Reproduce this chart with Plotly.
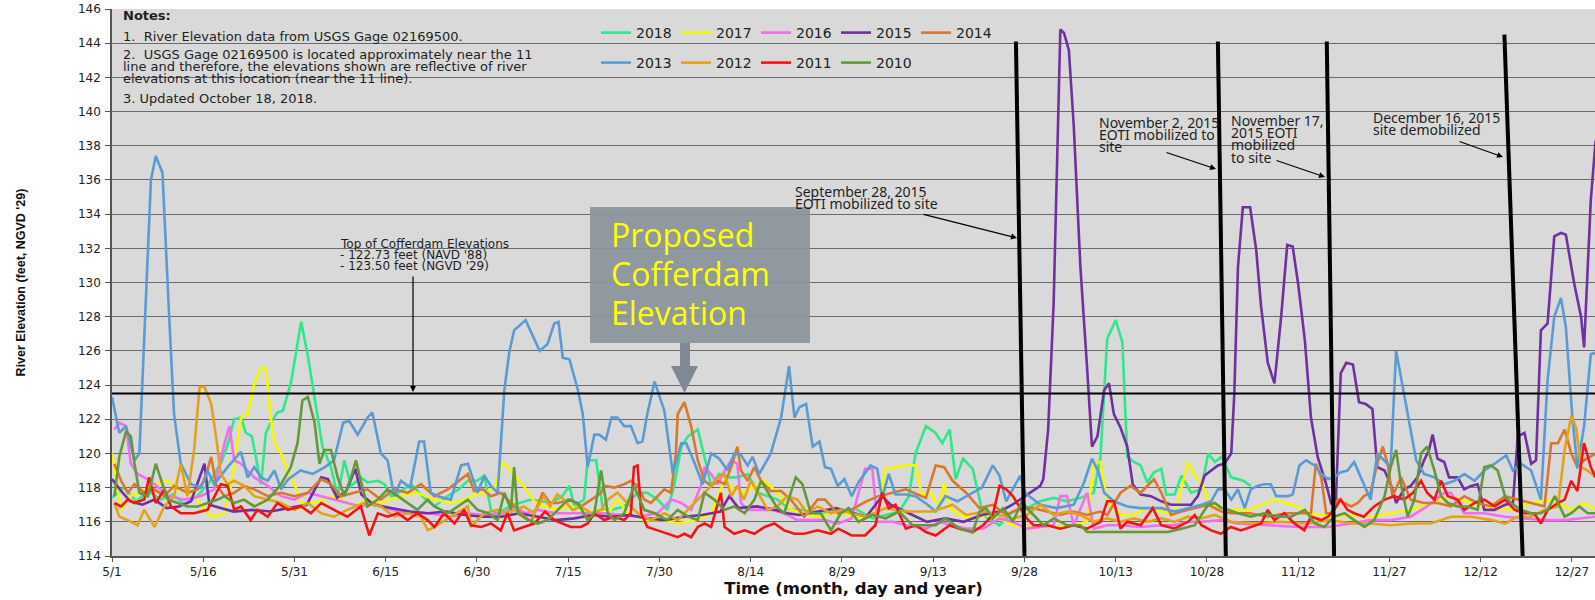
import plotly.graph_objects as go

# ---------------- data ----------------
TICK_DAYS = [0, 15, 30, 45, 60, 75, 90, 105, 120, 135, 150, 165, 180, 195, 210, 225, 240]
TICK_LABELS = ["5/1", "5/16", "5/31", "6/15", "6/30", "7/15", "7/30", "8/14", "8/29",
               "9/13", "9/28", "10/13", "10/28", "11/12", "11/27", "12/12", "12/27"]

YEARS = ["2018", "2017", "2016", "2015", "2014", "2013", "2012", "2011", "2010"]
COLORS = ["#2EE88A", "#F7F700", "#F56CF0", "#7030A0", "#D9782D",
          "#5B9BD5", "#E3A21A", "#F51414", "#63993A"]

s2018 = [(0,117.4),(2,118.0),(4,117.2),(6,117.8),(8,117.3),(10,117.6),(12,117.0),(14,117.5),(16,118.3),(18,119.5),(19,120.5),(20.1,122.0),(21.2,122.1),(22,121.2),(23,121.0),(24.5,118.2),(25.3,121.2),(26.1,121.8),(27.2,122.4),(28.1,122.5),(29.4,124.1),(31.1,127.7),(32.2,125.7),(33.5,122.9),(34.6,120.4),(36,119.2),(37.1,117.5),(38.2,119.6),(39.3,118.1),(40.9,118.6),(42,118.3),(43.7,118.4),(44.8,118.2),(45.9,117.5),(47,117.7),(49.2,118.2),(51,117.5),(53,116.9),(55.2,117.5),(57,117.9),(58.5,118.4),(60,118.4),(61.2,118.7),(62.3,116.7),(63.4,116.5),(66,117.0),(68.9,117.3),(72.2,117.1),(74,117.5),(75.2,118.1),(76,116.9),(77.6,117.3),(78.2,119.6),(79.6,119.6),(80.7,116.7),(82.1,116.7),(84.2,116.9),(86.4,117.7),(88,117.7),(89.7,117.3),(91.3,116.7),(92.4,118.1),(93.6,120.4),(94.7,121.0),(96.3,121.4),(97.4,119.8),(98.5,118.1),(99.8,118.8),(101.2,118.6),(102.8,118.6),(104.5,118.8),(106.2,117.7),(107.8,117.5),(109.4,117.3),(111.6,116.7),(113.8,116.7),(116,116.3),(118.2,116.7),(120.4,116.5),(122,116.8),(125,116.2),(127,116.4),(129.4,116.6),(131,117.5),(132.1,120.0),(133.8,121.6),(135.4,121.2),(136.5,120.6),(137.7,121.4),(138.7,118.5),(139.9,119.7),(141.5,119.1),(143.2,116.4),(145.9,115.8),(148.1,116.6),(150.4,116.8),(152.6,117.2),(154.8,117.4),(157,117.2),(159.2,117.4),(161.4,117.7),(162.5,119.8),(163.6,126.7),(165,127.8),(166.1,126.5),(166.9,119.8),(168,119.5),(169.1,119.3),(170.2,118.3),(171.3,118.9),(172.5,119.1),(173.3,117.6),(174.7,117.6),(175.8,118.7),(177.4,117.7),(179.1,117.9),(180.2,120.0),(181.3,119.5),(182.4,119.8),(184,118.6),(186,118.4),(187.2,118.1)]

s2017 = [(0,120.0),(1.5,116.7),(3,117.5),(5,117.8),(7,118.2),(9.2,118.4),(10.8,117.9),(13,117.7),(16.3,116.3),(18.5,116.5),(19.6,118.2),(21.2,122.1),(22.3,122.3),(23.4,124.1),(24.5,125.0),(25.3,125.0),(26.1,122.1),(26.7,120.6),(27.8,120.0),(29,118.8),(30,118.2),(31.1,117.1),(33.3,117.1),(36.5,117.5),(39.8,116.9),(42,117.3),(44.2,117.1),(47.5,117.5),(50.2,117.7),(53,117.3),(55.7,117.1),(58,117.3),(59,117.5),(61.2,117.7),(63,118.0),(64.2,119.5),(65,119.2),(67.7,118.1),(69.4,117.2),(71,116.9),(73.2,116.7),(75.4,116.9),(77.1,116.7),(79.8,116.5),(82,116.7),(83.1,117.3),(84.8,116.5),(87.5,116.1),(90.3,116.1),(93,115.9),(96.3,116.1),(98.5,116.5),(100.7,118.4),(101.8,118.0),(104,117.7),(105.6,118.1),(107.3,118.4),(109.4,117.7),(111.6,116.7),(113.8,116.5),(116,116.3),(118.2,116.5),(120.4,116.5),(122,116.2),(124,116.3),(126,116.8),(127.2,119.1),(128.8,119.2),(130.5,119.3),(132.1,119.3),(133.2,117.5),(134.6,117.7),(136,116.8),(136.8,118.3),(137.7,116.8),(139.3,116.4),(141.5,116.2),(143.7,116.4),(145.9,116.2),(148.1,115.8),(150.4,115.7),(152.6,115.8),(154.8,115.7),(158.1,115.8),(160.3,116.0),(161.4,119.5),(162.5,119.5),(163.6,117.2),(165.8,116.4),(168,116.4),(170.2,116.8),(172.5,116.6),(174.7,116.4),(176.9,119.5),(178,118.7),(179.1,118.3),(180.2,117.2),(182,116.8),(184,116.7),(187,116.7),(191.1,117.3),(194,117.0),(197.1,116.5),(200.4,116.3),(203.7,116.4),(207,116.3),(210.2,116.5),(213.5,116.7),(216.8,117.1),(220.1,117.5),(223.4,117.1),(226.8,116.8),(230.3,116.7),(233.3,117.1),(235.5,117.3),(237.7,117.1),(239.9,116.7),(242,117.1),(243.9,116.7)]

s2016 = [(0.4,121.4),(1.2,121.8),(2.3,121.6),(3.1,119.4),(4.2,118.8),(5.3,118.6),(7,118.2),(9.2,117.5),(11.9,117.3),(14.6,117.5),(16.8,117.9),(18.5,120.6),(19.3,121.6),(20.1,119.6),(21.2,119.4),(23.4,118.6),(25.6,118.1),(27.8,117.5),(30,117.3),(32.2,117.7),(34.4,117.5),(36.5,117.3),(38.7,117.1),(40.9,116.9),(43,117.1),(45.9,116.7),(48.6,116.5),(51.9,116.5),(55.7,116.3),(58.5,116.5),(61,116.4),(64.5,116.5),(66.1,116.9),(68,116.5),(70,116.7),(73,116.5),(75.4,116.5),(78,116.5),(81,116.5),(83.7,116.4),(86.4,116.3),(89.7,116.5),(92,117.3),(93.6,117.1),(95.2,116.7),(96.8,118.1),(97.4,119.2),(98.5,118.8),(99.6,118.2),(100.7,119.0),(101.8,119.6),(102.8,119.4),(103.4,117.1),(104.5,116.7),(106.2,116.7),(108.3,116.7),(110.5,116.5),(112.7,116.1),(115,116.1),(117.2,116.1),(119.3,115.9),(121.6,116.2),(123.8,119.1),(125,119.1),(125.8,116.0),(128.3,116.0),(130.5,115.8),(133.8,115.6),(136,116.0),(140.4,115.6),(143.2,115.6),(145.9,116.2),(148.1,116.0),(150.4,115.6),(154.8,115.8),(155.9,117.5),(157,117.5),(158.1,115.8),(160.3,117.7),(161.4,115.6),(163.6,115.8),(165.8,115.8),(169.1,115.7),(172.5,115.8),(174.7,115.8),(176.9,116.0),(179.1,116.0),(182.4,116.1),(185,115.9),(190,115.8),(195,115.7),(200,115.7),(203.7,115.9),(206.9,116.1),(210.2,116.1),(213.5,116.3),(216.2,116.9),(219,117.7),(220.1,117.7),(222.3,116.5),(225.6,116.5),(229,116.3),(232.2,116.2),(235.5,116.1),(238.8,116.1),(240.9,116.2),(243.9,116.3)]

s2015 = [(0,118.5),(1.5,117.8),(3,117.2),(5,117.0),(7,117.3),(9,116.8),(11,116.9),(13,117.2),(15.2,119.4),(16,117.0),(18,116.8),(20,116.6),(23,116.7),(26,116.6),(29,116.8),(32,117.0),(34.4,118.6),(35.5,118.5),(37,117.4),(38.5,117.8),(40,119.1),(41,117.6),(43,117.0),(46,116.8),(49,116.6),(52,116.5),(55,116.6),(58,116.4),(61,116.3),(64,116.3),(67,116.5),(70,116.3),(73,116.1),(76,116.2),(79,116.4),(82,116.3),(85,116.4),(88,116.2),(91,116.1),(94,116.3),(97,116.4),(100,116.6),(101.5,117.5),(103,116.8),(106,116.9),(109,116.7),(111,116.5),(113,116.4),(116,116.6),(119,116.8),(121,116.6),(124,116.3),(126.6,117.5),(128,117.0),(131,116.5),(134,116.0),(137,116.2),(140,116.0),(143,116.4),(146,116.6),(148,117.0),(150.1,117.5),(152.6,118.1),(153.1,118.5),(153.9,121.4),(154.8,128.8),(155.3,136.1),(155.9,144.8),(156.5,144.6),(157.3,143.6),(158.1,139.2),(159.2,130.9),(160.3,125.0),(161.1,120.4),(162,121.0),(163.1,123.7),(163.9,124.1),(164.7,122.3),(165.8,121.5),(166.9,120.4),(167.8,118.2),(169.1,117.6),(170.8,117.5),(172.5,117.2),(174.1,117.0),(175.8,117.0),(177.4,117.0),(178.5,117.5),(179.6,118.7),(180.7,119.0),(181.8,119.3),(182.9,119.4),(184,120.0),(184.5,123.5),(185.1,130.9),(185.9,134.4),(187.1,134.4),(188.1,131.9),(188.9,128.6),(190,125.3),(191.1,124.1),(192.2,128.0),(193.2,132.2),(194.1,132.1),(195,129.9),(196.1,126.6),(197.1,122.1),(198.2,119.8),(199.6,118.2),(200.4,117.1),(201.2,117.3),(202,124.7),(202.9,125.3),(204,125.2),(205,123.0),(206.1,122.9),(207.2,122.6),(208,119.2),(209.2,119.0),(210.2,118.2),(211.1,117.1),(212.4,117.9),(213.5,118.1),(214.6,118.6),(215.7,119.6),(216.5,120.2),(217.1,121.1),(217.9,119.7),(219,119.5),(219.8,118.6),(221.2,118.6),(222.3,117.9),(223.4,118.1),(224.5,118.2),(225.6,116.7),(227.3,116.7),(229,117.0),(230.3,117.1),(231.1,121.0),(232.2,121.2),(233.3,119.4),(234.1,119.6),(234.9,127.2),(236,127.6),(237.1,132.7),(238.2,132.9),(239,132.8),(240.4,129.9),(241.5,128.0),(242,126.2),(243.1,134.8),(243.9,138.3)]

s2014 = [(0.4,119.4),(1.5,118.4),(2.6,117.7),(3.7,118.2),(5.3,117.7),(7,117.9),(8.6,117.5),(10.2,118.1),(12.4,117.7),(14.1,117.9),(15.2,118.4),(16.3,119.8),(17.1,118.2),(18.5,117.5),(20.1,117.7),(21.7,118.1),(23.4,117.9),(25.6,117.5),(27.8,117.7),(30,117.5),(32.2,117.7),(34.4,118.5),(36,118.2),(37.6,117.5),(39.8,117.7),(42,117.9),(44.2,117.3),(46.4,117.9),(48.6,117.7),(50.8,118.2),(53,117.5),(55.2,117.9),(56.3,118.2),(58.5,118.8),(59.5,117.8),(61,117.9),(62.3,117.5),(63.9,117.7),(65.6,117.1),(67.2,116.5),(68.9,116.0),(70.8,117.7),(72,117.1),(73.3,117.1),(75.4,117.3),(77.1,116.9),(78.8,117.3),(80.4,117.7),(81,118.1),(82.6,118.0),(84.2,118.2),(85.3,118.4),(86.4,118.1),(87.5,117.3),(88.6,117.1),(89.7,117.5),(90.8,117.9),(91.9,117.7),(92.7,120.0),(93,122.3),(94.1,123.0),(95.2,121.6),(96.3,119.6),(97.4,118.4),(98.5,118.1),(99.6,118.4),(100.7,118.2),(101.8,119.2),(102.8,120.4),(103.4,119.0),(104.5,118.4),(105.6,119.2),(106.7,118.4),(108.3,117.8),(110,117.8),(111.6,117.3),(113.8,116.3),(116,117.3),(117.2,117.3),(119.3,116.5),(121.5,116.7),(124,117.2),(126,117.5),(128.3,117.7),(130.5,117.9),(133.8,117.4),(135.4,119.3),(136.8,119.2),(138.2,118.4),(140.4,117.7),(142.6,116.8),(144.8,117.0),(147,116.4),(149.3,116.8),(151.5,116.8),(153.7,116.6),(155.9,116.4),(158.1,116.6),(160.3,116.4),(162.5,116.6),(163.6,116.4),(165.8,117.7),(167.4,118.1),(169.1,117.7),(170.2,118.1),(171.3,118.5),(172.5,117.7),(174.1,116.4),(175.8,116.6),(177.9,116.8),(180.2,117.0),(182.4,116.6),(184,116.5),(187,116.5),(190,116.3),(193,116.5),(197.1,116.5),(197.9,119.4),(198.8,118.6),(199.6,116.5),(200.4,116.5),(201.5,117.3),(202.6,117.1),(203.7,116.9),(204.8,117.1),(205.8,117.5),(206.9,117.7),(208,119.4),(208.9,120.4),(209.7,119.4),(210.5,117.5),(211.9,118.6),(213.5,117.3),(215.7,117.1),(217.9,117.1),(220.1,116.9),(222.3,117.5),(224.5,117.1),(226.7,116.9),(229,117.5),(231.1,117.3),(233.3,117.1),(235.5,116.9),(236.6,120.6),(237.7,120.6),(238.8,121.4),(239.9,120.0),(240.9,119.2),(242,119.6),(243.9,120.0)]

s2013 = [(0,123.3),(1.2,121.2),(2.3,121.6),(3.7,119.6),(4.5,120.0),(5.5,128.0),(6.4,136.0),(7.2,137.4),(8.3,136.4),(9.4,128.0),(10.2,122.3),(11.3,119.4),(13,118.2),(14.6,118.0),(15.7,119.0),(16.8,118.2),(19,119.2),(21.2,120.1),(22.3,118.6),(23.4,119.2),(24.5,118.6),(25.6,118.4),(26.7,119.0),(27.8,117.9),(29,118.5),(31,119.0),(33,118.8),(35,119.2),(36.5,119.6),(38,121.8),(39,121.9),(40.4,121.1),(42,122.1),(42.8,122.4),(44.2,120.0),(45.3,119.6),(46.4,117.5),(47.5,118.4),(49,118.0),(50.5,120.7),(51.3,120.7),(52.4,117.7),(53.5,117.5),(55.7,117.3),(57.4,119.3),(58.5,119.4),(60.1,117.7),(61.2,118.7),(62.3,118.1),(63.4,117.7),(64.5,123.7),(65.3,125.9),(66.1,127.2),(68,127.8),(70.3,126.0),(71.6,126.4),(72.7,127.6),(73.4,127.7),(74.1,125.6),(75.2,125.5),(76.6,123.7),(77.4,122.3),(78.2,119.2),(79.3,121.1),(80.1,121.1),(81.2,120.8),(82.1,122.1),(83.1,122.1),(84.2,121.6),(85.3,121.6),(86.4,120.6),(87.2,120.7),(88,122.3),(89.2,124.2),(90.8,122.5),(92.2,118.8),(93.6,120.6),(94.4,120.6),(95.7,119.5),(97.1,118.2),(98.5,120.0),(99.8,119.7),(101.2,119.0),(102.3,120.0),(103.4,119.9),(104.5,119.3),(105.3,119.8),(106.4,118.8),(108.3,120.0),(110,122.1),(111.3,125.1),(112.2,122.1),(113,122.7),(114.1,122.9),(115.2,120.4),(116.3,120.7),(117.2,119.2),(118.2,119.1),(119.3,118.1),(120.4,118.5),(121.6,117.5),(122.7,118.3),(124.7,119.3),(125.8,119.1),(126.6,117.4),(127.7,118.8),(128.8,117.6),(130.5,117.6),(132.1,117.5),(134.1,117.0),(135.4,116.6),(137,117.5),(139,117.2),(141,117.6),(143,118.0),(144.8,119.3),(145.9,118.7),(147,117.2),(149.3,118.7),(150.1,117.7),(152.6,117.0),(155.3,116.8),(158.1,117.0),(159.8,118.3),(161.1,119.7),(162.2,118.9),(163.1,117.7),(164.7,117.2),(166.9,116.9),(169.1,116.8),(172.5,116.8),(174.7,116.6),(176.9,116.8),(179.1,117.0),(180.7,117.2),(181.8,117.9),(182.9,117.9),(184,117.3),(185.1,117.9),(186.2,116.8),(187.2,117.9),(188.3,118.1),(189.4,118.2),(190.5,118.2),(191.4,117.5),(193.3,117.5),(194.1,117.6),(195.2,119.3),(196.3,119.6),(197.7,119.3),(198.8,118.8),(199.9,118.5),(200.9,118.6),(202,118.9),(203.1,119.0),(204.2,119.5),(205.3,118.6),(206.9,117.3),(208,120.0),(210.2,119.2),(211.1,126.0),(212.2,123.9),(213.3,121.8),(214.4,119.6),(215.7,118.8),(217.4,118.6),(219,118.2),(220.7,118.4),(222.3,118.8),(224,118.4),(225.6,119.0),(227.3,119.4),(229.2,119.9),(230.3,119.0),(231.6,119.4),(233.3,119.0),(234.9,117.3),(236,124.3),(237.1,128.0),(238.2,129.1),(239,127.4),(240.1,122.0),(240.9,119.2),(242,121.6),(243.1,125.8),(243.9,125.9)]

s2012 = [(0.4,117.1),(1.2,116.3),(2.6,116.1),(4.2,115.8),(5.3,116.7),(7,115.7),(8.6,116.9),(10.2,117.5),(11.3,119.4),(12.4,117.5),(13.5,120.2),(14.4,123.9),(15.2,123.9),(16.3,122.9),(17.1,121.0),(17.9,118.8),(19,118.2),(20.1,118.4),(21.7,118.1),(23.4,117.5),(25.6,117.3),(27.8,117.1),(30,116.7),(32.2,117.1),(34.4,116.5),(36.5,116.3),(38.7,116.7),(41.4,117.1),(44.2,116.9),(46.4,116.3),(48.6,116.5),(50.8,116.3),(51.9,115.5),(53,115.7),(55.7,116.3),(58.5,116.9),(59,115.7),(61.2,116.5),(63.4,116.7),(65,116.5),(67.7,116.9),(69.4,116.5),(71,117.5),(72,116.9),(73.2,117.6),(74.3,117.3),(75.7,116.7),(77.1,116.9),(78.8,116.5),(80.4,116.7),(81.5,117.3),(83.1,117.7),(84.2,117.3),(86.4,116.5),(88.6,116.1),(90.8,116.5),(93,116.1),(94.7,116.7),(96.3,117.3),(97.4,117.7),(98.5,118.1),(99.6,118.6),(100.7,118.8),(101.8,117.5),(102.8,118.1),(103.9,117.3),(105,118.4),(106.2,117.7),(107.8,116.7),(109.4,116.9),(111,117.5),(112.7,117.3),(114.3,116.5),(116,116.9),(118.2,116.5),(119.8,116.7),(121.5,116.5),(124,116.3),(127.2,116.8),(130.5,116.6),(134.9,116.6),(138.2,117.0),(140.4,116.4),(143.7,116.6),(145.9,116.4),(148.1,116.2),(150.4,116.4),(152.6,117.0),(154.8,116.4),(157,116.6),(159.2,116.4),(161.4,116.0),(163.6,116.2),(165.8,116.0),(168,116.2),(170.2,116.0),(172.5,116.2),(174.7,116.0),(176.9,116.3),(179.1,116.2),(181.3,116.4),(184,116.0),(188,115.9),(192,116.0),(196,115.9),(200.4,116.1),(203.7,115.9),(206.9,115.9),(210.2,115.8),(213.5,115.9),(216.8,115.9),(220.1,116.3),(223.4,116.3),(226.8,116.1),(229,115.9),(231.1,116.3),(233.3,116.3),(235.5,116.7),(237.7,116.9),(238.8,120.2),(239.9,122.2),(240.7,121.5),(241.5,119.2),(242.6,119.0),(243.9,118.6)]

s2011 = [(0.4,117.1),(1.5,116.9),(2.6,117.3),(3.7,117.1),(5.3,117.3),(6.1,118.6),(7.2,117.1),(8.6,117.9),(9.7,116.9),(11.3,116.5),(13.5,116.5),(15.7,116.7),(17.9,118.2),(19,118.1),(20.1,116.7),(21.2,116.9),(22.8,116.1),(23.9,116.7),(25.6,116.3),(27.2,117.1),(28.9,116.7),(31.1,116.9),(32.7,116.5),(34.4,117.1),(36.5,116.7),(38.7,116.3),(40.9,116.9),(42.3,115.2),(43.7,116.5),(45.3,116.3),(47,116.5),(48.6,116.1),(50.2,116.5),(51.9,116.1),(53,115.7),(54.6,116.5),(56.3,115.9),(57.9,116.7),(59,115.8),(60.7,115.7),(62.3,115.9),(63.9,115.5),(65,116.5),(66.1,115.5),(67.7,115.7),(69.4,115.9),(71.2,116.6),(72.7,116.1),(75.4,115.7),(77.1,115.7),(78.2,115.9),(79.3,116.5),(80.9,116.1),(82.6,116.3),(84.2,116.1),(85.3,116.5),(85.8,119.2),(86.4,119.3),(87,116.5),(88,115.7),(89.7,115.5),(91.3,115.3),(93,115.1),(94.1,115.3),(95.2,115.1),(96.3,115.7),(97.4,115.9),(98.5,115.7),(100.1,117.7),(100.7,115.7),(102.3,115.3),(104,115.5),(105.6,115.3),(107.3,115.7),(108.9,115.9),(110.5,115.5),(112.2,115.3),(113.8,115.3),(116,115.5),(118.2,115.3),(119.4,115.6),(121.6,115.2),(123.8,115.2),(125.5,115.8),(126.6,117.7),(127.7,116.8),(128.8,117.0),(130.5,115.6),(132.1,115.8),(133.8,115.4),(135.4,115.2),(137.7,115.8),(139.3,115.6),(141.5,115.4),(143.2,115.8),(144.8,116.4),(145.9,118.1),(147,117.9),(148.1,117.5),(149.3,116.8),(150.4,116.2),(151.5,115.8),(153.7,115.8),(155.9,115.6),(158.1,115.8),(160.3,115.6),(162.5,116.0),(163.6,117.2),(164.7,117.2),(165.8,115.6),(166.9,116.0),(169.1,115.8),(171.1,116.8),(172.5,115.8),(174.7,115.6),(176.9,116.0),(178,116.4),(179.1,115.8),(180.7,115.5),(182.3,115.3),(183.9,115.7),(185.6,115.5),(187.2,115.7),(188.9,115.9),(190,116.7),(191.1,116.1),(192.7,116.5),(194.4,115.9),(196,115.5),(197.1,116.3),(198.8,116.1),(199.9,116.3),(200.9,116.7),(202,117.3),(203.1,116.7),(204.2,116.5),(205.8,116.3),(207.5,116.9),(209.2,117.3),(210.8,117.5),(212.4,117.3),(213.9,117.7),(215.2,118.4),(216.2,117.7),(217.4,117.3),(218.5,118.4),(219.6,117.5),(221.2,117.3),(222.3,116.7),(224,117.1),(225.6,117.3),(227.3,116.9),(229,117.3),(230.6,116.7),(232.2,116.5),(233.8,116.5),(234.9,115.9),(236,116.7),(237.7,117.1),(238.8,117.3),(239.9,118.4),(240.9,117.8),(242,120.6),(243.1,119.2),(243.9,118.6)]

s2010 = [(0.4,117.5),(1.2,119.8),(2.3,121.3),(3.1,121.0),(3.7,119.4),(4.5,117.7),(5.9,117.5),(7.2,119.4),(8.3,118.2),(9.2,117.3),(10.8,117.1),(12.4,116.9),(14.1,116.9),(15.7,117.1),(17.4,117.3),(18.5,117.5),(20.1,117.1),(21.7,117.3),(23.4,116.9),(25.6,117.3),(27.8,118.2),(29.4,119.2),(30.5,120.6),(31.3,123.1),(32.2,123.3),(33.3,121.8),(34.1,119.4),(34.9,120.2),(36,120.2),(37.1,118.6),(38.2,117.5),(39.3,118.6),(40.1,119.6),(40.9,118.4),(42,116.9),(43.7,117.3),(45.3,117.9),(47,117.5),(48.6,117.1),(50.2,116.7),(51.9,117.3),(53,116.9),(55.2,116.5),(56.8,116.9),(58.5,117.3),(60.1,116.7),(61.8,116.5),(63.4,116.1),(64.5,117.7),(65.6,116.7),(66.1,119.2),(66.7,116.5),(68.4,116.1),(70,115.9),(71.6,116.1),(73.3,116.7),(75,117.3),(76.6,117.1),(78.2,116.1),(79.3,116.5),(80.4,119.0),(81.5,116.5),(82.6,116.1),(84.2,116.5),(85.8,118.1),(87.5,116.7),(89.2,116.5),(91.3,116.1),(93,116.7),(94.7,116.3),(96.3,116.1),(97.4,117.7),(99,117.3),(100.7,116.7),(102.3,116.9),(104,116.5),(105.6,117.3),(106.7,118.4),(107.8,117.7),(109.2,116.9),(110.5,116.5),(111.6,117.7),(112.4,118.6),(113.5,118.2),(114.9,116.5),(116.5,116.5),(118.2,115.5),(119.8,116.5),(121.1,116.8),(122.7,116.0),(125,116.4),(127.2,116.2),(129.4,116.6),(131.6,115.8),(133.8,115.8),(135.4,115.8),(137,116.2),(139.3,115.6),(141.5,115.4),(142.6,116.6),(143.7,116.8),(144.8,116.2),(146.5,116.8),(148.1,116.0),(149.6,117.2),(150.4,116.8),(151.5,116.4),(153.1,115.8),(154.8,116.2),(157,115.8),(159.2,115.8),(160.3,115.4),(163.6,115.4),(166.9,115.4),(170.2,115.4),(173.6,115.4),(175.8,115.6),(178,115.8),(180.2,117.0),(181.3,117.1),(182.4,116.8),(183.5,116.7),(185.1,116.5),(187.2,116.3),(189.4,116.5),(191.6,116.3),(193.8,116.3),(196.1,116.7),(197.7,115.9),(199.3,115.7),(200.9,116.3),(202.6,116.5),(204.2,116.1),(205.9,115.7),(207.5,116.1),(209.2,117.5),(210.2,119.2),(211.1,120.2),(211.9,118.2),(213,116.3),(214.1,117.3),(215.2,120.0),(216.2,120.4),(217.4,119.0),(218.5,117.5),(219.6,117.1),(221.2,116.9),(222.9,116.9),(224.5,116.7),(225.6,119.2),(226.7,119.3),(227.8,119.0),(229,117.5),(230,117.1),(231.6,116.7),(233.3,116.5),(234.9,116.5),(236,116.7),(237.2,117.5),(238.8,116.3),(239.9,116.5),(241.2,116.9),(242.6,116.5),(243.9,116.5)]

SERIES = [s2018, s2017, s2016, s2015, s2014, s2013, s2012, s2011, s2010]

COFFERDAM = 123.5
# hand-drawn event markers: (top day, top elevation, bottom day)
EVENTS = [(148.6, 144.1, 150.0), (181.8, 144.1, 183.1), (199.7, 144.1, 200.9), (228.9, 144.5, 231.9)]

# ---------------- geometry helpers (pixel -> axis units) ----------------
W, H = 1595, 600
L, R, T, B = 112, 0, 9, 44
PX_PER_DAY = 6.083
X_MAX = (W - L - R) / PX_PER_DAY
Y_MIN, Y_MAX = 114, 146
PX_PER_FT = (H - T - B) / (Y_MAX - Y_MIN)


def xd(px):
    return (px - L) / PX_PER_DAY


def yv(py):
    return Y_MIN + (H - B - py) / PX_PER_FT


fig = go.Figure()
for i, (name, col, s) in enumerate(zip(YEARS, COLORS, SERIES)):
    d = [p[0] for p in s]
    v = [p[1] for p in s]
    fig.add_trace(go.Scatter(
        x=d, y=v, mode="lines", name=name,
        line=dict(color=col, width=2.6),
        legend="legend" if i < 5 else "legend2",
    ))

shapes = []
shapes.append(dict(type="line", xref="x", yref="y", x0=0, x1=X_MAX, y0=COFFERDAM, y1=COFFERDAM,
                   line=dict(color="black", width=2), layer="above"))
for (xt, yt, xb) in EVENTS:
    shapes.append(dict(type="line", xref="x", yref="y", x0=xt, y0=yt, x1=xb, y1=Y_MIN,
                       line=dict(color="black", width=4), layer="above"))

# proposed cofferdam box + arrow
BOX = (590, 207, 810, 343)
shapes.append(dict(type="rect", xref="x", yref="y", x0=xd(BOX[0]), x1=xd(BOX[2]),
                   y0=yv(BOX[3]), y1=yv(BOX[1]), fillcolor="#8A929B", opacity=0.93,
                   line=dict(width=0), layer="above"))
arrow_px = [(680, 343), (690, 343), (690, 366), (698, 366), (684.5, 393), (671, 366), (680, 366)]
path = "M " + " L ".join(f"{xd(x):.3f},{yv(y):.3f}" for x, y in arrow_px) + " Z"
shapes.append(dict(type="path", xref="x", yref="y", path=path, fillcolor="#808893",
                   line=dict(width=0), layer="above"))

ann = []
TXT = "#1e1e1e"


def text(px, py, s, size=11, family="DejaVu Sans", color=TXT, bold=False):
    ann.append(dict(x=xd(px), y=yv(py), xref="x", yref="y", text=(f"<b>{s}</b>" if bold else s),
                    showarrow=False, xanchor="left", yanchor="middle", align="left",
                    font=dict(family=family, size=size, color=color)))


def arrow(px0, py0, px1, py1, width=1.2):
    ann.append(dict(x=xd(px1), y=yv(py1), xref="x", yref="y", ax=px0 - px1, ay=py0 - py1,
                    axref="pixel", ayref="pixel", text="", showarrow=True,
                    arrowhead=2, arrowsize=1, arrowwidth=width, arrowcolor="black", standoff=0))


# Notes block
NS = 13
text(121, 15, "Notes:", size=NS, bold=True)
text(121, 36.5, "1.  River Elevation data from USGS Gage 02169500.", size=NS)
text(121, 54, "2.  USGS Gage 02169500 is located approximately near the 11", size=NS)
text(121, 66, "line and therefore, the elevations shown are reflective of river", size=NS)
text(121, 78, "elevations at this location (near the 11 line).", size=NS)
text(121, 98.5, "3. Updated October 18, 2018.", size=NS)

# cofferdam label
CS = 12
text(338, 244, "Top of Cofferdam Elevations", size=CS)
text(338, 254.5, "- 122.73 feet (NAVD '88)", size=CS)
text(338, 265.5, "- 123.50 feet (NGVD '29)", size=CS)
arrow(413, 275, 413, 392)

# event labels
EF = "Noto Sans"
ES = 14
text(793, 191, "September 28, 2015", size=ES, family=EF)
text(793, 203, "EOTI mobilized to site", size=ES, family=EF)
arrow(922, 214, 1017, 238)
text(1097, 122, "November 2, 2015", size=ES, family=EF)
text(1097, 134, "EOTI mobilized to", size=ES, family=EF)
text(1097, 146, "site", size=ES, family=EF)
arrow(1165, 152, 1216, 169)
text(1229, 120, "November 17,", size=ES, family=EF)
text(1229, 132, "2015 EOTI", size=ES, family=EF)
text(1229, 144.5, "mobilized", size=ES, family=EF)
text(1229, 157, "to site", size=ES, family=EF)
arrow(1275, 160, 1325, 177)
text(1371, 117, "December 16, 2015", size=ES, family=EF)
text(1371, 129, "site demobilized", size=ES, family=EF)
arrow(1458, 141, 1503, 157)

# proposed cofferdam text
for py, s in [(234, "Proposed"), (273, "Cofferdam"), (312, "Elevation")]:
    text(609, py, s, size=32, family="Open Sans", color="#FFFF00")

AX_FONT = dict(family="DejaVu Sans", size=12, color="#222222")
LEG_FONT = dict(family="DejaVu Sans", size=14, color="#222222")
fig.update_layout(
    width=W, height=H,
    margin=dict(l=L, r=R, t=T, b=B, autoexpand=False),
    paper_bgcolor="white", plot_bgcolor="#D9D9D9",
    shapes=shapes, annotations=ann,
    xaxis=dict(range=[0, X_MAX], tickmode="array", tickvals=TICK_DAYS, ticktext=TICK_LABELS,
               showgrid=False, zeroline=False, showline=True, linecolor="#555555", linewidth=1.5,
               ticks="outside", ticklen=4, tickcolor="#555555", tickfont=AX_FONT,
               title=dict(text="<b>Time (month, day and year)</b>", standoff=1,
                          font=dict(family="DejaVu Sans", size=16.5, color="#111111"))),
    yaxis=dict(range=[Y_MIN, Y_MAX], dtick=2, tick0=114, showgrid=True, gridcolor="#6A6A6A",
               gridwidth=1, zeroline=False, showline=True, linecolor="#555555", linewidth=1.5,
               ticks="outside", ticklen=5, tickcolor="#555555", tickfont=AX_FONT,
               ticklabelstandoff=2,
               title=dict(text="<b>River Elevation (feet, NGVD '29)</b>", standoff=50,
                          font=dict(family="Liberation Sans", size=12.5, color="#111111"))),
    legend=dict(orientation="h", x=xd(596) / X_MAX, y=(H - B - 33) / (H - T - B), xanchor="left",
                yanchor="middle", bgcolor="rgba(0,0,0,0)", font=LEG_FONT,
                entrywidth=35, entrywidthmode="pixels", tracegroupgap=0),
    legend2=dict(orientation="h", x=xd(596) / X_MAX, y=(H - B - 63) / (H - T - B), xanchor="left",
                 yanchor="middle", bgcolor="rgba(0,0,0,0)", font=LEG_FONT,
                 entrywidth=35, entrywidthmode="pixels", tracegroupgap=0),
    showlegend=True,
)

fig.write_html("out.html", config={"displayModeBar": False},
               post_script="document.body.style.margin='0';document.body.style.overflow='hidden';")
